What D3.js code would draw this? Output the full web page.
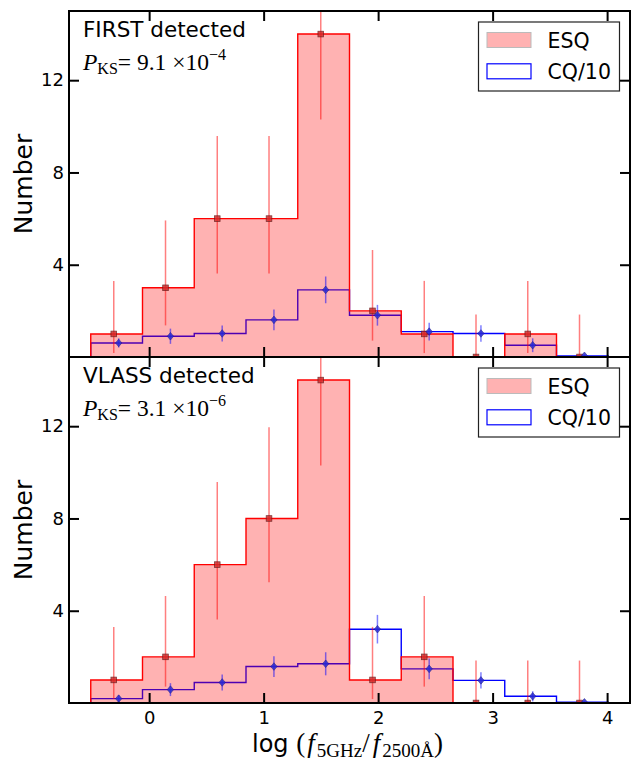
<!DOCTYPE html>
<html>
<head>
<meta charset="utf-8">
<script src="https://cdn.jsdelivr.net/npm/d3@7"></script>
<style>
  html, body { margin: 0; padding: 0; background: #fff; }
  svg { display: block; }
  .tick text { font-family: "DejaVu Sans", sans-serif; }
</style>
</head>
<body>
<svg id="chart" width="636" height="762"></svg>
<script>
// Bin edges of log(f_5GHz / f_2500A)
const binEdges = [-0.51, -0.058, 0.394, 0.846, 1.298, 1.75, 2.202, 2.654, 3.106, 3.558, 4.01];

// FIRST-detected sample
const esqFirst   = [1, 3, 6, 6, 14, 2, 1, 0, 1, 0];
const esqFirstLo = [0.17, 1.37, 3.62, 3.62, 10.3, 0.71, 0.17, 0, 0.17, 0];
const esqFirstHi = [3.30, 5.92, 9.58, 9.58, 18.8, 4.64, 3.30, 1.84, 3.30, 1.84];
const cqFirst    = [0.61, 0.90, 1.02, 1.61, 2.91, 1.81, 1.10, 1.02, 0.51, 0.05];
const cqFirstErr = [0.20, 0.33, 0.35, 0.45, 0.58, 0.45, 0.38, 0.36, 0.30, 0.05];

// VLASS-detected sample
const esqVlass   = [1, 2, 6, 8, 14, 1, 2, 0, 0, 0];
const esqVlassLo = [0.17, 0.71, 3.62, 5.23, 10.3, 0.17, 0.71, 0, 0, 0];
const esqVlassHi = [3.30, 4.64, 9.58, 11.95, 18.8, 3.30, 4.64, 1.84, 1.84, 1.84];
const cqVlass    = [0.19, 0.58, 0.89, 1.58, 1.70, 3.20, 1.48, 0.98, 0.29, 0.03];
const cqVlassErr = [0.15, 0.28, 0.35, 0.45, 0.50, 0.62, 0.45, 0.35, 0.22, 0.04];

const panelTitles = ["FIRST detected", "VLASS detected"];
const pksMantissa = ["9.1", "3.1"];
const pksExponent = ["\u22124", "\u22126"];

const xTicks = [0, 1, 2, 3, 4];
const yTicks = [4, 8, 12];
const legendLabels = ["ESQ", "CQ/10"];

const svg = d3.select("#chart");
const left = 69, right = 630;
const panelBounds = [[11, 357], [357, 703]];

const x = d3.scaleLinear().domain([-0.7, 4.2]).range([left, right]);

const panels = [
  { esq: esqFirst, lo: esqFirstLo, hi: esqFirstHi, cq: cqFirst, cqErr: cqFirstErr },
  { esq: esqVlass, lo: esqVlassLo, hi: esqVlassHi, cq: cqVlass, cqErr: cqVlassErr }
];

// Turns bin counts into a histogram step outline
function stepPoints(vals) {
  const pts = [[binEdges[0], 0]];
  vals.forEach((v, i) => { pts.push([binEdges[i], v]); pts.push([binEdges[i + 1], v]); });
  pts.push([binEdges[binEdges.length - 1], 0]);
  return pts;
}

const binCenters = binEdges.slice(0, -1).map((e, i) => (e + binEdges[i + 1]) / 2);

panels.forEach((p, k) => {
  const [top, bottom] = panelBounds[k];
  const y = d3.scaleLinear().domain([0, 15]).range([bottom, top]);
  const g = svg.append("g");

  const clipId = "clip" + k;
  svg.append("clipPath").attr("id", clipId)
    .append("rect").attr("x", left).attr("y", top).attr("width", right - left).attr("height", bottom - top);

  const plot = g.append("g").attr("clip-path", `url(#${clipId})`);
  const line = d3.line().x(d => x(d[0])).y(d => y(d[1]));

  // CQ/10 step outline
  plot.append("path").attr("d", line(stepPoints(p.cq)))
    .attr("fill", "none").attr("stroke", "#0000ff").attr("stroke-width", 1.4);

  // ESQ filled histogram
  plot.append("path").attr("d", line(stepPoints(p.esq)) + "Z")
    .attr("fill", "rgba(255,0,0,0.3)").attr("stroke", "none");
  plot.append("path").attr("d", line(stepPoints(p.esq)))
    .attr("fill", "none").attr("stroke", "#ff0000").attr("stroke-width", 1.4);

  // ESQ error bars and square markers
  binCenters.forEach((c, i) => {
    const cx = x(c - 0.025);
    plot.append("line").attr("x1", cx).attr("x2", cx)
      .attr("y1", y(p.lo[i])).attr("y2", y(p.hi[i]))
      .attr("stroke", "#ff0000").attr("stroke-opacity", 0.5).attr("stroke-width", 1.5);
    plot.append("rect").attr("x", cx - 2.8).attr("y", y(p.esq[i]) - 2.8)
      .attr("width", 5.6).attr("height", 5.6)
      .attr("fill", "#d42a2a").attr("stroke", "#6a1a1a").attr("stroke-width", 0.8)
      .attr("opacity", 0.85);
  });

  // CQ/10 error bars and diamond markers
  binCenters.forEach((c, i) => {
    const cx = x(c + 0.018);
    plot.append("line").attr("x1", cx).attr("x2", cx)
      .attr("y1", y(p.cq[i] - p.cqErr[i])).attr("y2", y(p.cq[i] + p.cqErr[i]))
      .attr("stroke", "#0000ff").attr("stroke-opacity", 0.5).attr("stroke-width", 1.5);
    const cy = y(p.cq[i]);
    plot.append("path")
      .attr("d", `M${cx},${cy - 3.8}L${cx + 3.2},${cy}L${cx},${cy + 3.8}L${cx - 3.2},${cy}Z`)
      .attr("fill", "#2a2ad4").attr("stroke", "#1a1a80").attr("stroke-width", 0.6)
      .attr("opacity", 0.85);
  });

  // Axes with inward ticks on all four sides
  const axB = d3.axisBottom(x).tickValues(xTicks).tickSize(-10).tickPadding(8)
    .tickFormat(k === 1 ? d3.format("d") : () => "");
  const axT = d3.axisTop(x).tickValues(xTicks).tickSize(-10).tickFormat(() => "");
  const axL = d3.axisLeft(y).tickValues(yTicks).tickSize(-10).tickPadding(5).tickFormat(d3.format("d"));
  const axR = d3.axisRight(y).tickValues(yTicks).tickSize(-10).tickFormat(() => "");

  [[axB, `translate(0,${bottom})`], [axT, `translate(0,${top})`],
   [axL, `translate(${left},0)`], [axR, `translate(${right},0)`]].forEach(([ax, tr]) => {
    const a = g.append("g").attr("transform", tr).call(ax);
    a.select(".domain").remove();
    a.selectAll(".tick line").attr("stroke", "#000").attr("stroke-width", 2);
    a.selectAll(".tick text").attr("font-size", 18).attr("fill", "#000");
  });

  // Frame
  g.append("rect").attr("x", left).attr("y", top).attr("width", right - left).attr("height", bottom - top)
    .attr("fill", "none").attr("stroke", "#000").attr("stroke-width", 2);

  // Panel title and KS probability
  g.append("text").attr("x", 83).attr("y", top + 26)
    .attr("font-family", "DejaVu Sans, sans-serif").attr("font-size", 21.5)
    .text(panelTitles[k]);

  const pks = g.append("text").attr("x", 83).attr("y", top + 59)
    .attr("font-family", "Liberation Serif, serif").attr("font-size", 23.5);
  pks.append("tspan").attr("font-style", "italic").text("P");
  pks.append("tspan").attr("font-size", 16).attr("dy", 4).text("KS");
  pks.append("tspan").attr("dy", -4).text("= " + pksMantissa[k] + " \u00d710");
  pks.append("tspan").attr("font-size", 16).attr("dy", -10).text(pksExponent[k]);

  // Y axis label
  g.append("text")
    .attr("transform", `translate(32,${(top + bottom) / 2}) rotate(-90)`)
    .attr("text-anchor", "middle")
    .attr("font-family", "DejaVu Sans, sans-serif").attr("font-size", 25)
    .text("Number");

  // Legend
  const lg = g.append("g").attr("transform", `translate(478.5,${top + 11})`);
  lg.append("rect").attr("width", 141).attr("height", 69)
    .attr("fill", "#fff").attr("stroke", "#222").attr("stroke-width", 1.2);
  lg.append("rect").attr("x", 8.5).attr("y", 10.5).attr("width", 44).attr("height", 15)
    .attr("fill", "rgba(255,0,0,0.3)").attr("stroke", "#bbbbbb").attr("stroke-width", 1);
  lg.append("rect").attr("x", 8.5).attr("y", 41.8).attr("width", 44).attr("height", 15)
    .attr("fill", "#fff").attr("stroke", "#0000ff").attr("stroke-width", 1.2);
  legendLabels.forEach((t, i) => {
    lg.append("text").attr("x", 69).attr("y", 25.5 + i * 31.3)
      .attr("font-family", "DejaVu Sans, sans-serif").attr("font-size", 20.5)
      .text(t);
  });
});

// X axis label
const serif = "Liberation Serif, serif";
const xl = svg.append("text").attr("x", 252).attr("y", 752).attr("font-size", 24);
xl.append("tspan").attr("font-family", "DejaVu Sans, sans-serif").text("log ");
xl.append("tspan").attr("font-family", serif).attr("font-size", 27).text("(");
xl.append("tspan").attr("font-family", serif).attr("font-size", 27).attr("font-style", "italic").attr("dx", 2).text("f");
xl.append("tspan").attr("font-family", serif).attr("font-size", 19).attr("dx", 2).attr("dy", 5).text("5GHz");
xl.append("tspan").attr("font-family", serif).attr("font-size", 27).attr("dy", -5).text("/");
xl.append("tspan").attr("font-family", serif).attr("font-size", 27).attr("font-style", "italic").attr("dx", 3).text("f");
xl.append("tspan").attr("font-family", serif).attr("font-size", 19).attr("dx", 2).attr("dy", 5).text("2500\u00c5");
xl.append("tspan").attr("font-family", serif).attr("font-size", 27).attr("dy", -5).text(")");
</script>
</body>
</html>
